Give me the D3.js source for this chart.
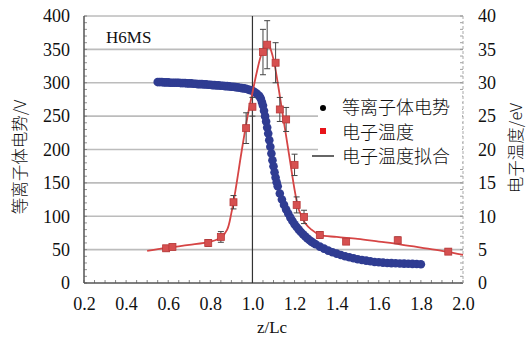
<!DOCTYPE html>
<html>
<head>
<meta charset="utf-8">
<script src="https://cdn.jsdelivr.net/npm/d3@7"></script>
<style>
  body { margin: 0; background: #fff; }
  svg text { fill: #111; }
</style>
</head>
<body>
<div id="chart"></div>
<script>
// plasma potential (left axis, V)
const potZ = [0.55,0.56,0.57,0.58,0.59,0.60,0.61,0.62,0.63,0.64,0.65,0.66,0.67,0.68,0.69,0.70,0.71,0.72,0.73,0.74,0.75,0.76,0.77,0.78,0.79,0.80,0.81,0.82,0.83,0.84,0.85,0.86,0.87,0.88,0.89,0.90,0.91,0.92,0.93,0.94,0.95,0.96,0.97,0.98,0.99,1.00,1.01,1.02,1.03,1.035,1.04,1.045,1.05,1.055,1.06,1.065,1.07,1.075,1.08,1.085,1.09,1.095,1.10,1.105,1.11,1.115,1.12,1.13,1.14,1.15,1.16,1.17,1.18,1.19,1.20,1.21,1.22,1.23,1.24,1.25,1.26,1.27,1.28,1.29,1.30,1.32,1.34,1.36,1.38,1.40,1.42,1.44,1.46,1.48,1.50,1.52,1.54,1.56,1.58,1.60,1.62,1.64,1.66,1.68,1.70,1.72,1.74,1.76,1.78,1.80];
const potV = [301,301,301,300.5,300.5,300.5,300,300,300,300,300,299.5,299.5,299.5,299,299,299,298.5,298.5,298,298,298,297.5,297.5,297,297,296.5,296.5,296,296,295.5,295.5,295,295,294.5,294,294,293.5,293,292.5,292,291.5,291,290,289,288,286,284,281,279,276,271,266,258,250,242,233,224,214,204,194,184,175,166,158,151,145,134,125,117,110,104,98,93,88,84,80,76.5,73,70,67,64.5,62,60,58,54.5,51.5,48.5,46,44,42,40,38.5,37,35.5,34.5,33.5,32.5,31.5,31,30.5,30,29.8,29.5,29.2,29,28.8,28.6,28.4,28.2];

// electron temperature (right axis, eV) with error bars
const teZ   = [0.59,0.62,0.79,0.85,0.91,0.97,1.00,1.05,1.07,1.11,1.13,1.16,1.20,1.21,1.245,1.32,1.445,1.69,1.93];
const teV   = [5.2,5.4,6.0,6.9,12.1,23.2,26.4,34.6,35.7,33.0,26.0,24.5,17.7,11.7,9.9,7.2,6.2,6.4,4.7];
const teErr = [0.4,0.4,0.5,0.8,1.0,2.3,1.4,3.4,3.6,3.0,1.8,1.8,1.6,1.2,1.0,0.5,0.4,0.5,0.4];

// electron temperature fit
const fitZ = [0.50,0.60,0.70,0.80,0.85,0.88,0.90,0.92,0.95,0.98,1.00,1.02,1.04,1.06,1.07,1.08,1.10,1.12,1.14,1.16,1.18,1.20,1.22,1.25,1.28,1.32,1.40,1.50,1.60,1.70,1.80,1.90,2.00];
const fitV = [4.8,5.3,5.7,6.2,6.8,8.0,10.5,14.0,20.0,25.5,28.5,31.5,34.0,35.5,35.8,35.5,33.5,30.0,26.0,22.0,18.0,14.0,11.0,9.0,8.0,7.2,6.9,6.6,6.2,5.8,5.3,4.8,4.2];

const xTicks = [0.2,0.4,0.6,0.8,1.0,1.2,1.4,1.6,1.8,2.0];
const yTicksL = [0,50,100,150,200,250,300,350,400];
const yTicksR = [0,5,10,15,20,25,30,35,40];
const legendLabels = ["等离子体电势", "电子温度", "电子温度拟合"];

const W = 529, H = 339;
const margin = { top: 16, right: 66, bottom: 56, left: 84 };
const width = W - margin.left - margin.right,
  height = H - margin.top - margin.bottom;

const svg = d3.select("#chart").append("svg")
  .attr("width", W).attr("height", H);
const g = svg.append("g")
  .attr("transform", "translate(" + margin.left + "," + margin.top + ")");

const x = d3.scaleLinear().domain([0.2, 2.0]).range([0, width]);
const yL = d3.scaleLinear().domain([0, 400]).range([height, 0]);
const yR = d3.scaleLinear().domain([0, 40]).range([height, 0]);

const serif = "'Liberation Serif', 'Times New Roman', serif";
const cjk = "'Noto Sans CJK SC', sans-serif";

// gridlines
g.append("g").selectAll("line")
  .data(yTicksL.slice(1))
  .enter().append("line")
  .attr("x1", 0).attr("x2", width)
  .attr("y1", d => yL(d)).attr("y2", d => yL(d))
  .attr("stroke", d => d === 400 ? "#9a9a9a" : "#bcbcbc")
  .attr("stroke-width", d => d === 400 ? 1 : 1.6);

// axes
const axL = g.append("g")
  .call(d3.axisLeft(yL).tickValues(yTicksL).tickSize(0).tickPadding(14).tickFormat(d3.format("d")));
const axR = g.append("g").attr("transform", `translate(${width},0)`)
  .call(d3.axisRight(yR).tickValues(yTicksR).tickSize(0).tickPadding(15).tickFormat(d3.format("d")));
const axB = g.append("g").attr("transform", `translate(0,${height})`)
  .call(d3.axisBottom(x).tickValues(xTicks).tickSize(0).tickPadding(14).tickFormat(d3.format(".1f")));
[axL, axR, axB].forEach(a => {
  a.selectAll("text").style("font-family", serif).style("font-size", "18px").attr("fill", "#111");
  a.select(".domain").remove();
});

// minor ticks
g.append("g").selectAll("line").data(d3.range(0, 401, 10))
  .enter().append("line")
  .attr("x1", 0).attr("x2", 3)
  .attr("y1", d => yL(d)).attr("y2", d => yL(d))
  .attr("stroke", "#777").attr("stroke-width", 0.8);
g.append("g").selectAll("line").data(d3.range(0, 41, 1))
  .enter().append("line")
  .attr("x1", width - 3).attr("x2", width)
  .attr("y1", d => yR(d)).attr("y2", d => yR(d))
  .attr("stroke", "#888").attr("stroke-width", 0.8);
g.append("g").selectAll("line").data(d3.range(0.2, 2.001, 0.05))
  .enter().append("line")
  .attr("x1", d => x(d)).attr("x2", d => x(d))
  .attr("y1", height).attr("y2", height - 3)
  .attr("stroke", "#666").attr("stroke-width", 0.8);

// axis lines
g.append("line").attr("x1", 0).attr("x2", 0).attr("y1", 0).attr("y2", height)
  .attr("stroke", "#555").attr("stroke-width", 1.5);
g.append("line").attr("x1", 0).attr("x2", width).attr("y1", height).attr("y2", height)
  .attr("stroke", "#555").attr("stroke-width", 1.5);
g.append("line").attr("x1", width).attr("x2", width).attr("y1", 0).attr("y2", height)
  .attr("stroke", "#aaa").attr("stroke-width", 1).attr("stroke-dasharray", "3,2");

// vertical line at z/Lc = 1
g.append("line").attr("x1", x(1)).attr("x2", x(1)).attr("y1", 0).attr("y2", height)
  .attr("stroke", "#333").attr("stroke-width", 1.2);

// potential dots
g.append("g").selectAll("circle")
  .data(potZ.map((z, i) => ({ z: z, v: potV[i] })))
  .enter().append("circle")
  .attr("cx", d => x(d.z)).attr("cy", d => yL(d.v))
  .attr("r", 4.3)
  .attr("fill", "#2f3c92");

// fit line
const line = d3.line().x(d => x(d.z)).y(d => yR(d.v)).curve(d3.curveCatmullRom);
g.append("path")
  .datum(fitZ.map((z, i) => ({ z: z, v: fitV[i] })))
  .attr("d", line)
  .attr("fill", "none").attr("stroke", "#d64545").attr("stroke-width", 1.8);

// error bars
const te = teZ.map((z, i) => ({ z: z, v: teV[i], e: teErr[i] }));
const eb = g.append("g").selectAll("g").data(te).enter().append("g");
eb.append("line")
  .attr("x1", d => x(d.z)).attr("x2", d => x(d.z))
  .attr("y1", d => yR(d.v - d.e)).attr("y2", d => yR(d.v + d.e))
  .attr("stroke", "#444").attr("stroke-width", 1);
eb.selectAll(".cap").data(d => [[d.z, d.v - d.e], [d.z, d.v + d.e]])
  .enter().append("line")
  .attr("x1", d => x(d[0]) - 3).attr("x2", d => x(d[0]) + 3)
  .attr("y1", d => yR(d[1])).attr("y2", d => yR(d[1]))
  .attr("stroke", "#444").attr("stroke-width", 1);

// temperature squares
g.append("g").selectAll("rect").data(te)
  .enter().append("rect")
  .attr("x", d => x(d.z) - 3.5).attr("y", d => yR(d.v) - 3.5)
  .attr("width", 7).attr("height", 7)
  .attr("fill", "#d65050").attr("stroke", "#b83838").attr("stroke-width", 0.8);

// legend
const lg = svg.append("g");
lg.append("rect").attr("x", 318).attr("y", 92).attr("width", 144).attr("height", 76).attr("fill", "#fff");
lg.append("circle").attr("cx", 323).attr("cy", 108).attr("r", 3).attr("fill", "#000");
lg.append("rect").attr("x", 320).attr("y", 128).attr("width", 6).attr("height", 6).attr("fill", "#e8141a");
lg.append("line").attr("x1", 312).attr("x2", 334).attr("y1", 156).attr("y2", 156)
  .attr("stroke", "#000").attr("stroke-width", 1.2);
lg.selectAll("text").data(legendLabels).enter().append("text")
  .attr("x", 342).attr("y", (d, i) => 114 + i * 24.5)
  .style("font-family", cjk).style("font-size", "18px").style("font-weight", 300)
  .text(d => d);

// labels
svg.append("text").attr("x", 106).attr("y", 43)
  .style("font-family", serif).style("font-size", "17px").text("H6MS");
svg.append("text").attr("x", 272).attr("y", 333).attr("text-anchor", "middle")
  .style("font-family", serif).style("font-size", "17px").text("z/Lc");
svg.append("text")
  .attr("transform", "translate(26,157) rotate(-90)")
  .attr("text-anchor", "middle")
  .style("font-family", cjk).style("font-size", "16.5px").style("font-weight", 300)
  .text("等离子体电势/V");
svg.append("text")
  .attr("transform", "translate(522,148) rotate(-90)")
  .attr("text-anchor", "middle")
  .style("font-family", cjk).style("font-size", "16.5px").style("font-weight", 300)
  .text("电子温度/eV");
</script>
</body>
</html>
